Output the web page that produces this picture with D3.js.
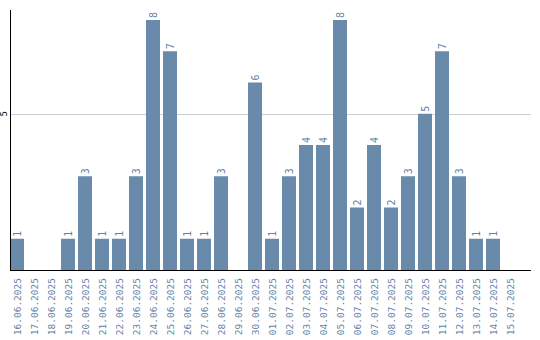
<!DOCTYPE html>
<html>
<head>
<meta charset="utf-8">
<script src="https://cdn.jsdelivr.net/npm/d3@7"></script>
<style>
  body { margin: 0; background: #fff; }
  svg { display: block; }
</style>
</head>
<body>
<div id="chart"></div>
<script>
// dates on the x axis
var dates = ["16.06.2025", "17.06.2025", "18.06.2025", "19.06.2025", "20.06.2025",
    "21.06.2025", "22.06.2025", "23.06.2025", "24.06.2025", "25.06.2025",
    "26.06.2025", "27.06.2025", "28.06.2025", "29.06.2025", "30.06.2025",
    "01.07.2025", "02.07.2025", "03.07.2025", "04.07.2025", "05.07.2025",
    "06.07.2025", "07.07.2025", "08.07.2025", "09.07.2025", "10.07.2025",
    "11.07.2025", "12.07.2025", "13.07.2025", "14.07.2025", "15.07.2025"];

// count per day
var counts = [1, 0, 0, 1, 3, 1, 1, 3, 8, 7, 1, 1, 3, 0, 6, 1, 3, 4, 4, 8, 2, 4, 2, 3, 5, 7, 3, 1, 1, 0];

var yTicks = [5];

var data = dates.map(function (d, i) { return { day: d, n: counts[i] }; });

var svg = d3.select("#chart").append("svg").attr("width", 540).attr("height", 340);

var barColor = "#6a8aab";
var textColor = "#5f82a8";

var x = d3.scaleBand()
    .domain(dates)
    .range([10, 517])
    .paddingInner(3 / 17)
    .paddingOuter(0);

var y = d3.scaleLinear()
    .domain([0, 8.32])
    .range([270, 10]);

// grid line at 5
svg.selectAll(".grid")
    .data(yTicks)
    .enter().append("line")
    .attr("x1", 10).attr("x2", 531)
    .attr("y1", d => Math.round(y(d)) + 0.5)
    .attr("y2", d => Math.round(y(d)) + 0.5)
    .attr("stroke", "#cccccc");

// bars
svg.selectAll(".bar")
    .data(data.filter(d => d.n > 0))
    .enter().append("rect")
    .attr("class", "bar")
    .attr("x", d => x(d.day))
    .attr("y", d => y(d.n))
    .attr("width", x.bandwidth())
    .attr("height", d => y(0) - y(d.n))
    .attr("fill", barColor);

// value labels over bars
svg.selectAll(".val")
    .data(data.filter(d => d.n > 0))
    .enter().append("text")
    .attr("transform", d => "translate(" + (x(d.day) + x.bandwidth() / 2 + 3.5) + "," + (y(d.n) - 2) + ") rotate(-90)")
    .attr("text-anchor", "start")
    .attr("font-family", "DejaVu Sans Mono")
    .attr("font-size", "10px")
    .attr("fill", textColor)
    .text(d => d.n);

// y axis
svg.append("line")
    .attr("x1", 10.5).attr("x2", 10.5)
    .attr("y1", 10).attr("y2", 270)
    .attr("stroke", "#000");

svg.selectAll(".ytick")
    .data(yTicks)
    .enter().append("text")
    .attr("transform", d => "translate(7," + y(d) + ") rotate(-90)")
    .attr("text-anchor", "middle")
    .attr("font-family", "DejaVu Sans")
    .attr("font-size", "8px")
    .attr("fill", "#000")
    .text(d => d);

// x axis
svg.append("line")
    .attr("x1", 10).attr("x2", 531)
    .attr("y1", 270.5).attr("y2", 270.5)
    .attr("stroke", "#000");

svg.selectAll(".xlab")
    .data(dates)
    .enter().append("text")
    .attr("transform", d => "translate(" + (x(d) + x.bandwidth() / 2 + 3.5) + ",278) rotate(-90)")
    .attr("text-anchor", "end")
    .attr("font-family", "DejaVu Sans Mono")
    .attr("font-size", "9.5px")
    .attr("fill", textColor)
    .text(d => d);
</script>
</body>
</html>
